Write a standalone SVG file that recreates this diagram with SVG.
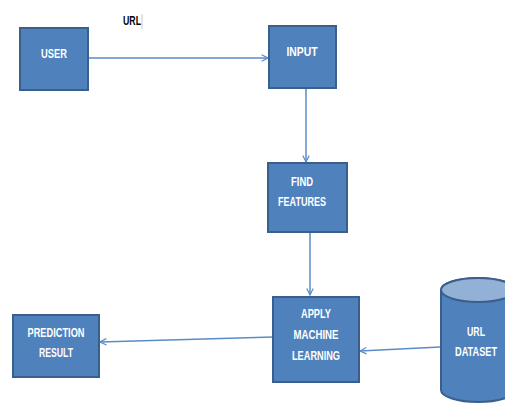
<svg xmlns="http://www.w3.org/2000/svg" width="505" height="404" viewBox="0 0 505 404">
  <style>
    .box { fill: #4F81BD; stroke: #3A5F8C; stroke-width: 2; }
    .lbl { fill: #ffffff; font-family: "Liberation Sans", Arial, sans-serif; font-weight: bold; font-size: 12px; text-anchor: middle; }
    .edge { fill: none; stroke: #5A8BC8; stroke-width: 1.5; }
    .note { fill: #000000; font-family: "Liberation Sans", Arial, sans-serif; font-weight: bold; font-size: 12px; }
  </style>
  <defs>
    <marker id="arrow" viewBox="0 0 10 10" refX="9" refY="5" markerWidth="8" markerHeight="8" markerUnits="userSpaceOnUse" orient="auto">
      <path d="M1,1 L9,5 L1,9" fill="none" stroke="#5A8BC8" stroke-width="1.5"/>
    </marker>
  </defs>
  <rect width="505" height="404" fill="#ffffff"/>

  <text class="note" x="123" y="25" textLength="18" lengthAdjust="spacingAndGlyphs">URL</text>
  <line x1="142" y1="14" x2="142" y2="29" stroke="#c8c8c8" stroke-width="1"/>

  <g id="connectors">
    <line class="edge" x1="88" y1="58" x2="268" y2="58" marker-end="url(#arrow)"/>
    <line class="edge" x1="306" y1="88" x2="306" y2="162" marker-end="url(#arrow)"/>
    <line class="edge" x1="310" y1="232" x2="310" y2="295" marker-end="url(#arrow)"/>
    <line class="edge" x1="273" y1="337" x2="100" y2="342" marker-end="url(#arrow)"/>
    <line class="edge" x1="440" y1="347" x2="360" y2="351" marker-end="url(#arrow)"/>
  </g>

  <g id="user">
    <rect class="box" x="20" y="28" width="68" height="62"/>
    <text class="lbl" x="54" y="58" textLength="26" lengthAdjust="spacingAndGlyphs">USER</text>
  </g>

  <g id="input">
    <rect class="box" x="269" y="26" width="67" height="62"/>
    <text class="lbl" x="302" y="56" textLength="31" lengthAdjust="spacingAndGlyphs">INPUT</text>
  </g>

  <g id="find-features">
    <rect class="box" x="268" y="163" width="79" height="69"/>
    <text class="lbl" x="302" y="186" textLength="22" lengthAdjust="spacingAndGlyphs">FIND</text>
    <text class="lbl" x="302" y="206" textLength="48" lengthAdjust="spacingAndGlyphs">FEATURES</text>
  </g>

  <g id="apply-ml">
    <rect class="box" x="273" y="297" width="86" height="85"/>
    <text class="lbl" x="316" y="318" textLength="30" lengthAdjust="spacingAndGlyphs">APPLY</text>
    <text class="lbl" x="316" y="339" textLength="45" lengthAdjust="spacingAndGlyphs">MACHINE</text>
    <text class="lbl" x="316" y="360" textLength="48" lengthAdjust="spacingAndGlyphs">LEARNING</text>
  </g>

  <g id="prediction-result">
    <rect class="box" x="13" y="315" width="86" height="62"/>
    <text class="lbl" x="56" y="337" textLength="57" lengthAdjust="spacingAndGlyphs">PREDICTION</text>
    <text class="lbl" x="56" y="357" textLength="34" lengthAdjust="spacingAndGlyphs">RESULT</text>
  </g>

  <g id="url-dataset">
    <path class="box" d="M441,290 L441,390 A37,12 0 0 0 515,390 L515,290 A37,12 0 0 0 441,290 Z"/>
    <ellipse cx="478" cy="290" rx="37" ry="12" fill="#93B0D6" stroke="#3A5F8C" stroke-width="2"/>
    <text class="lbl" x="476" y="336" textLength="18" lengthAdjust="spacingAndGlyphs">URL</text>
    <text class="lbl" x="476" y="356" textLength="42" lengthAdjust="spacingAndGlyphs">DATASET</text>
  </g>
</svg>
